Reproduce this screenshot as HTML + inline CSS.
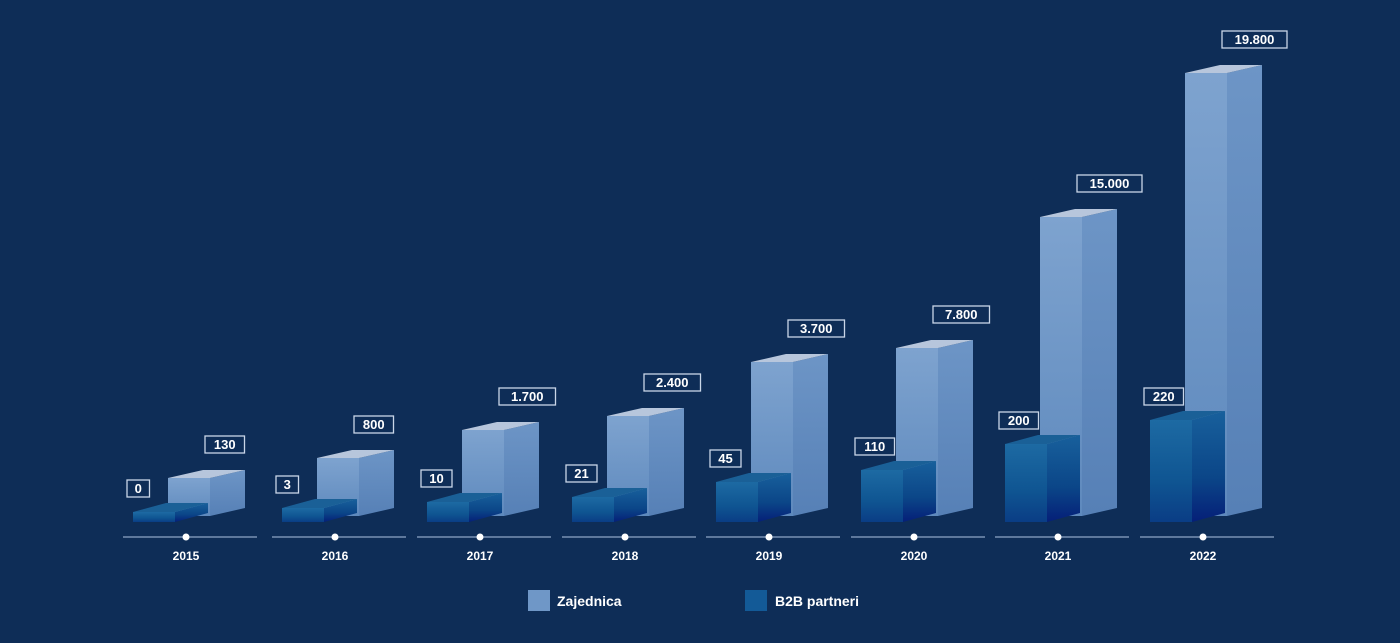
<!DOCTYPE html>
<html><head><meta charset="utf-8"><style>
html,body{margin:0;padding:0;background:#0e2d57;}
svg{display:block}
text{font-family:"Liberation Sans",sans-serif;font-weight:bold;fill:#fff}
</style></head><body>
<svg id="s" width="1400" height="643" viewBox="0 0 1400 643">
<defs>
<linearGradient id="lf" x1="0" y1="0" x2="0" y2="1"><stop offset="0" stop-color="#7ea3cf"/><stop offset="1" stop-color="#5e89bd"/></linearGradient>
<linearGradient id="ls" x1="0" y1="0" x2="0" y2="1"><stop offset="0" stop-color="#6d95c6"/><stop offset="1" stop-color="#5680b6"/></linearGradient>
<linearGradient id="df" x1="0" y1="0" x2="0" y2="1"><stop offset="0" stop-color="#1d6aa3"/><stop offset="0.6" stop-color="#0f5592"/><stop offset="1" stop-color="#0a3d85"/></linearGradient>
<linearGradient id="ds" x1="0" y1="0" x2="0" y2="1"><stop offset="0" stop-color="#18609c"/><stop offset="0.6" stop-color="#0b4688"/><stop offset="1" stop-color="#051f78"/></linearGradient>
</defs>
</svg>
<script>
var s=document.getElementById('s'),h='';
var yrs=[2015,2016,2017,2018,2019,2020,2021,2022];
var cx=[186,335,480,625,769,914,1058,1203];
var lt=[478,458,430,416,362,348,217,73];
var dt=[512,508,502,497,482,470,444,420];
var lv=['130','800','1.700','2.400','3.700','7.800','15.000','19.800'];
var dv=['0','3','10','21','45','110','200','220'];
function box(x,top,bot,w,dx,dy,f,sd,tp){
 return '<polygon points="'+(x+w)+','+top+' '+(x+w+dx)+','+(top-dy)+' '+(x+w+dx)+','+(bot-dy)+' '+(x+w)+','+bot+'" fill="url(#'+sd+')"/>'+
 '<rect x="'+x+'" y="'+top+'" width="'+w+'" height="'+(bot-top)+'" fill="url(#'+f+')"/>'+
 '<polygon points="'+x+','+top+' '+(x+dx)+','+(top-dy)+' '+(x+w+dx)+','+(top-dy)+' '+(x+w)+','+top+'" fill="'+tp+'"/>';
}
function lab(x,y,t){var w=t.length*8.5+14;
 return '<rect x="'+x+'" y="'+y+'" width="'+w+'" height="17" fill="#0e2d57" stroke="#c9d6e8" stroke-width="1.3"/><text x="'+(x+w/2)+'" y="'+(y+13)+'" font-size="13" text-anchor="middle">'+t+'</text>';}
for(var i=0;i<8;i++){
 var c=cx[i];
 h+=box(c-18,lt[i],516,42,35,8,'lf','ls','#b7c6dc');
 h+=box(c-53,dt[i],522,42,33,9,'df','ds','#1a6097');
 h+=lab(c+19,lt[i]-42,lv[i]);
 h+=lab(c-59,dt[i]-32,dv[i]);
 h+='<line x1="'+(c-63)+'" y1="537" x2="'+(c+71)+'" y2="537" stroke="#8ea6c6" stroke-width="1.3"/><circle cx="'+c+'" cy="537" r="3.5" fill="#fff"/>';
 h+='<text x="'+c+'" y="560" font-size="12" text-anchor="middle">'+yrs[i]+'</text>';
}
h+='<rect x="528" y="590" width="22" height="21" fill="#6f97c7"/><text x="557" y="606" font-size="14">Zajednica</text>';
h+='<rect x="745" y="590" width="22" height="21" fill="#135a97"/><text x="775" y="606" font-size="14">B2B partneri</text>';
s.insertAdjacentHTML('beforeend',h);
</script>
</body></html>
